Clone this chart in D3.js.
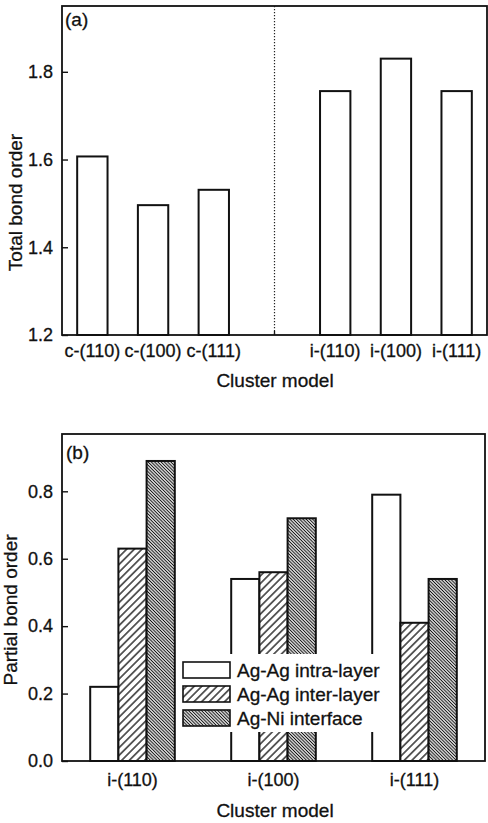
<!DOCTYPE html>
<html>
<head>
<meta charset="utf-8">
<script src="https://cdn.jsdelivr.net/npm/d3@7"></script>
<style>
  body { margin: 0; background: #fff; }
  text { font-family: "Liberation Sans", Arial, sans-serif; fill: #111; stroke: #111; stroke-width: 0.3px; }
</style>
</head>
<body>
<div id="chart"></div>
<script>
// data
const topModels = ["c-(110)", "c-(100)", "c-(111)", "i-(110)", "i-(100)", "i-(111)"];
const totalBond = [1.607, 1.496, 1.531, 1.756, 1.830, 1.756];
const topTicks = [1.2, 1.4, 1.6, 1.8];

const bottomModels = ["i-(110)", "i-(100)", "i-(111)"];
const seriesNames = ["Ag-Ag intra-layer", "Ag-Ag inter-layer", "Ag-Ni interface"];
const intraLayer = [0.22, 0.54, 0.79];
const interLayer = [0.63, 0.56, 0.41];
const agNiInterface = [0.89, 0.72, 0.54];
const bottomTicks = [0.0, 0.2, 0.4, 0.6, 0.8];

const W = 488, H = 823;
const svg = d3.select("#chart").append("svg")
  .attr("width", W).attr("height", H);

// hatch patterns
const defs = svg.append("defs");
function hatch(id, spacing, angle, sw) {
  const p = defs.append("pattern")
    .attr("id", id)
    .attr("patternUnits", "userSpaceOnUse")
    .attr("width", spacing).attr("height", spacing)
    .attr("patternTransform", `rotate(${angle})`);
  p.append("rect").attr("width", spacing).attr("height", spacing).attr("fill", "#fff");
  p.append("line")
    .attr("x1", spacing / 2).attr("y1", 0)
    .attr("x2", spacing / 2).attr("y2", spacing)
    .attr("stroke", "#111").attr("stroke-width", sw);
}
hatch("interHatch", 5.4, 45, 1.3);
hatch("niHatch", 2.3, -45, 1.1);
const fills = ["#fff", "url(#interHatch)", "url(#niHatch)"];

// ---------- panel (a) ----------
const a = {left: 62, right: 487, top: 6, bottom: 335};
const xDomain = [...topModels.slice(0, 3), "gap", ...topModels.slice(3)];
const xa = d3.scaleBand()
  .domain(xDomain)
  .range([a.left, a.right])
  .paddingInner(0.5)
  .paddingOuter(0.25);
const ya = d3.scaleLinear().domain([1.2, 1.95]).range([a.bottom, a.top]);

const ga = svg.append("g");

// bottom axis (inward ticks)
ga.append("g")
  .attr("transform", `translate(0,${a.bottom})`)
  .call(d3.axisBottom(xa).tickSizeInner(-4).tickSizeOuter(0).tickPadding(9)
    .tickFormat(d => d === "gap" ? "" : d))
  .call(g => g.select(".domain").remove())
  .call(g => g.selectAll("line").attr("stroke", "#111").attr("stroke-width", 1.3))
  .call(g => g.selectAll("text").style("font-size", "18px").attr("fill", "#111"));

// left axis
ga.append("g")
  .attr("transform", `translate(${a.left},0)`)
  .call(d3.axisLeft(ya).tickValues(topTicks).tickFormat(d3.format(".1f"))
    .tickSizeInner(-6).tickSizeOuter(0).tickPadding(9))
  .call(g => g.select(".domain").remove())
  .call(g => g.selectAll("line").attr("stroke", "#111").attr("stroke-width", 1.4))
  .call(g => g.selectAll("text").style("font-size", "18px").attr("fill", "#111"));

// dotted divider between c- and i- models
ga.append("line")
  .attr("x1", xa("gap") + xa.bandwidth() / 2)
  .attr("x2", xa("gap") + xa.bandwidth() / 2)
  .attr("y1", a.top).attr("y2", a.bottom)
  .attr("stroke", "#222").attr("stroke-width", 1.2)
  .attr("stroke-dasharray", "1.2,1.8");

// bars
ga.selectAll("rect.bar")
  .data(topModels)
  .join("rect")
    .attr("class", "bar")
    .attr("x", d => xa(d))
    .attr("y", (d, i) => ya(totalBond[i]))
    .attr("width", xa.bandwidth())
    .attr("height", (d, i) => a.bottom - ya(totalBond[i]))
    .attr("fill", "#fff")
    .attr("stroke", "#111")
    .attr("stroke-width", 2);

// frame
ga.append("rect")
  .attr("x", a.left).attr("y", a.top)
  .attr("width", a.right - a.left).attr("height", a.bottom - a.top)
  .attr("fill", "none").attr("stroke", "#111").attr("stroke-width", 1.8);

ga.append("text").text("(a)")
  .attr("x", a.left + 3).attr("y", 26)
  .style("font-size", "19px");

ga.append("text").text("Cluster model")
  .attr("x", 275).attr("y", 387)
  .attr("text-anchor", "middle")
  .style("font-size", "19px");

ga.append("text").text("Total bond order")
  .attr("transform", "translate(21.5,202.5) rotate(-90)")
  .attr("text-anchor", "middle")
  .style("font-size", "19px");

// ---------- panel (b) ----------
const b = {left: 62, right: 485, top: 434, bottom: 761};
const xb = d3.scaleBand()
  .domain(bottomModels)
  .range([b.left, b.right])
  .paddingInner(0.4)
  .paddingOuter(0.2);
const xs = d3.scaleBand()
  .domain(seriesNames)
  .range([0, xb.bandwidth()]);
const yb = d3.scaleLinear().domain([0, 0.97]).range([b.bottom, b.top]);

const gb = svg.append("g");

gb.append("g")
  .attr("transform", `translate(0,${b.bottom})`)
  .call(d3.axisBottom(xb).tickSizeInner(-4).tickSizeOuter(0).tickPadding(12))
  .call(g => g.select(".domain").remove())
  .call(g => g.selectAll("line").attr("stroke", "#111").attr("stroke-width", 1.3))
  .call(g => g.selectAll("text").style("font-size", "18px").attr("fill", "#111"));

gb.append("g")
  .attr("transform", `translate(${b.left},0)`)
  .call(d3.axisLeft(yb).tickValues(bottomTicks).tickFormat(d3.format(".1f"))
    .tickSizeInner(-6).tickSizeOuter(0).tickPadding(9))
  .call(g => g.select(".domain").remove())
  .call(g => g.selectAll("line").attr("stroke", "#111").attr("stroke-width", 1.4))
  .call(g => g.selectAll("text").style("font-size", "18px").attr("fill", "#111"));

const seriesValues = [intraLayer, interLayer, agNiInterface];
const barData = [];
bottomModels.forEach((m, i) => {
  seriesNames.forEach((s, j) => {
    barData.push({model: m, series: s, k: j, value: seriesValues[j][i]});
  });
});

gb.selectAll("rect.bar")
  .data(barData)
  .join("rect")
    .attr("class", "bar")
    .attr("x", d => xb(d.model) + xs(d.series))
    .attr("y", d => yb(d.value))
    .attr("width", xs.bandwidth())
    .attr("height", d => b.bottom - yb(d.value))
    .attr("fill", d => fills[d.k])
    .attr("stroke", "#111")
    .attr("stroke-width", 2);

// legend with white background over the bars
const lg = gb.append("g").attr("transform", "translate(183,662)");
lg.append("rect")
  .attr("x", -6).attr("y", -8)
  .attr("width", 208).attr("height", 78)
  .attr("fill", "#fff");
seriesNames.forEach((s, j) => {
  const row = lg.append("g").attr("transform", `translate(0,${j * 24})`);
  row.append("rect")
    .attr("width", 47).attr("height", 16)
    .attr("fill", fills[j])
    .attr("stroke", "#111").attr("stroke-width", 1.6);
  row.append("text").text(s)
    .attr("x", 54).attr("y", 8).attr("dy", "0.35em")
    .style("font-size", "19px");
});

gb.append("rect")
  .attr("x", b.left).attr("y", b.top)
  .attr("width", b.right - b.left).attr("height", b.bottom - b.top)
  .attr("fill", "none").attr("stroke", "#111").attr("stroke-width", 1.8);

gb.append("text").text("(b)")
  .attr("x", b.left + 4).attr("y", 459)
  .style("font-size", "19px");

gb.append("text").text("Cluster model")
  .attr("x", 275).attr("y", 817)
  .attr("text-anchor", "middle")
  .style("font-size", "19px");

gb.append("text").text("Partial bond order")
  .attr("transform", "translate(17,610) rotate(-90)")
  .attr("text-anchor", "middle")
  .style("font-size", "19px");
</script>
</body>
</html>
